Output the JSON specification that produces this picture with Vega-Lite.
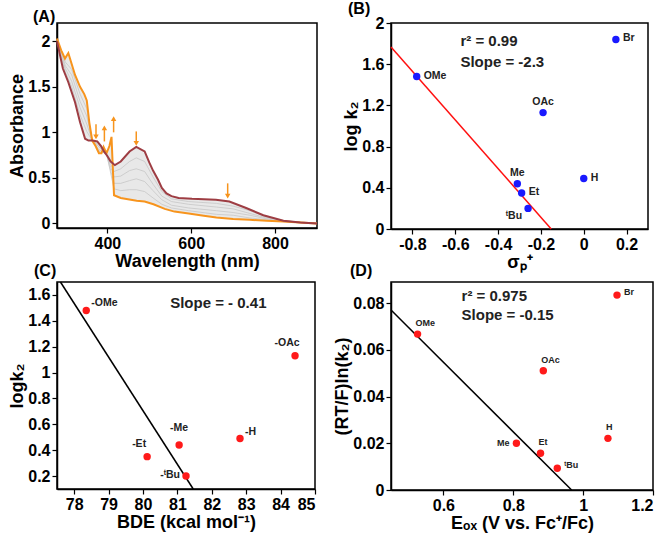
{
  "$schema": "https://vega.github.io/schema/vega-lite/v6.json",
  "padding": {"left": 8, "top": 0, "right": 0, "bottom": 0},
  "spacing": -10,
  "config": {
    "font": "Liberation Sans",
    "locale": {"number": {"decimal": ".", "thousands": ",", "grouping": [3], "currency": ["$", ""], "minus": "-"}},
    "view": {"stroke": "black", "strokeWidth": 1.5},
    "axis": {"grid": false, "domainColor": "black", "domainWidth": 1.5, "tickColor": "black", "tickSize": 5, "tickWidth": 1.2,
      "labelFont": "Liberation Sans", "labelFontSize": 16, "labelFontWeight": "bold", "labelColor": "black", "labelPadding": 2,
      "titleFont": "Liberation Sans", "titleFontSize": 18, "titleFontWeight": "bold", "titleColor": "black", "titlePadding": 1},
    "title": {"font": "Liberation Sans", "fontSize": 16, "fontWeight": "bold", "anchor": "start", "frame": "group", "color": "black"}
  },
  "datasets": {
    "spec": [
      {"s": "final", "wl": 280, "a": 2.03}, {"s": "final", "wl": 290, "a": 1.9}, {"s": "final", "wl": 299, "a": 1.81},
      {"s": "final", "wl": 307, "a": 1.87}, {"s": "final", "wl": 315, "a": 1.75}, {"s": "final", "wl": 323, "a": 1.63},
      {"s": "final", "wl": 335, "a": 1.5}, {"s": "final", "wl": 345, "a": 1.42}, {"s": "final", "wl": 351, "a": 1.35},
      {"s": "final", "wl": 357, "a": 1.11}, {"s": "final", "wl": 364, "a": 0.91}, {"s": "final", "wl": 372, "a": 0.85},
      {"s": "final", "wl": 380, "a": 0.77}, {"s": "final", "wl": 386, "a": 0.77}, {"s": "final", "wl": 391, "a": 0.84},
      {"s": "final", "wl": 398, "a": 0.77}, {"s": "final", "wl": 405, "a": 0.85}, {"s": "final", "wl": 410, "a": 0.95},
      {"s": "final", "wl": 413, "a": 0.62}, {"s": "final", "wl": 416, "a": 0.31}, {"s": "final", "wl": 432, "a": 0.28},
      {"s": "final", "wl": 470, "a": 0.25}, {"s": "final", "wl": 489, "a": 0.24}, {"s": "final", "wl": 510, "a": 0.21},
      {"s": "final", "wl": 537, "a": 0.16}, {"s": "final", "wl": 560, "a": 0.13}, {"s": "final", "wl": 594, "a": 0.11},
      {"s": "final", "wl": 630, "a": 0.085}, {"s": "final", "wl": 660, "a": 0.066}, {"s": "final", "wl": 700, "a": 0.05},
      {"s": "final", "wl": 740, "a": 0.04}, {"s": "final", "wl": 780, "a": 0.03}, {"s": "final", "wl": 820, "a": 0.02},
      {"s": "final", "wl": 860, "a": 0.01}, {"s": "final", "wl": 900, "a": 0.0},
      {"s": "initial", "wl": 280, "a": 2.0}, {"s": "initial", "wl": 287, "a": 1.85}, {"s": "initial", "wl": 294, "a": 1.7},
      {"s": "initial", "wl": 307, "a": 1.55}, {"s": "initial", "wl": 323, "a": 1.33}, {"s": "initial", "wl": 335, "a": 1.11},
      {"s": "initial", "wl": 347, "a": 0.93}, {"s": "initial", "wl": 355, "a": 0.91}, {"s": "initial", "wl": 365, "a": 0.91},
      {"s": "initial", "wl": 376, "a": 0.9}, {"s": "initial", "wl": 385, "a": 0.85}, {"s": "initial", "wl": 392, "a": 0.79},
      {"s": "initial", "wl": 400, "a": 0.74}, {"s": "initial", "wl": 408, "a": 0.68}, {"s": "initial", "wl": 418, "a": 0.64},
      {"s": "initial", "wl": 432, "a": 0.68}, {"s": "initial", "wl": 453, "a": 0.79}, {"s": "initial", "wl": 469, "a": 0.84},
      {"s": "initial", "wl": 489, "a": 0.79}, {"s": "initial", "wl": 500, "a": 0.67}, {"s": "initial", "wl": 509, "a": 0.58},
      {"s": "initial", "wl": 521, "a": 0.48}, {"s": "initial", "wl": 530, "a": 0.39}, {"s": "initial", "wl": 541, "a": 0.33},
      {"s": "initial", "wl": 553, "a": 0.3}, {"s": "initial", "wl": 570, "a": 0.28}, {"s": "initial", "wl": 602, "a": 0.27},
      {"s": "initial", "wl": 659, "a": 0.26}, {"s": "initial", "wl": 691, "a": 0.24}, {"s": "initial", "wl": 731, "a": 0.17},
      {"s": "initial", "wl": 772, "a": 0.09}, {"s": "initial", "wl": 820, "a": 0.03}, {"s": "initial", "wl": 860, "a": 0.01},
      {"s": "initial", "wl": 900, "a": 0.0}
    ],
    "band": [
      {"wl": 280, "lo": 2.03, "hi": 2.0}, {"wl": 290, "lo": 1.9, "hi": 1.79}, {"wl": 300, "lo": 1.81, "hi": 1.62},
      {"wl": 307, "lo": 1.87, "hi": 1.55}, {"wl": 315, "lo": 1.75, "hi": 1.44}, {"wl": 323, "lo": 1.63, "hi": 1.33},
      {"wl": 335, "lo": 1.5, "hi": 1.11}, {"wl": 345, "lo": 1.42, "hi": 0.96}, {"wl": 351, "lo": 1.35, "hi": 0.92},
      {"wl": 357, "lo": 1.11, "hi": 0.91}, {"wl": 364, "lo": 0.91, "hi": 0.91}, {"wl": 372, "lo": 0.85, "hi": 0.9},
      {"wl": 380, "lo": 0.77, "hi": 0.88}, {"wl": 391, "lo": 0.84, "hi": 0.8}, {"wl": 398, "lo": 0.77, "hi": 0.75},
      {"wl": 405, "lo": 0.85, "hi": 0.7}, {"wl": 410, "lo": 0.95, "hi": 0.67}, {"wl": 413, "lo": 0.62, "hi": 0.66},
      {"wl": 416, "lo": 0.31, "hi": 0.64}, {"wl": 432, "lo": 0.28, "hi": 0.68}, {"wl": 453, "lo": 0.26, "hi": 0.79},
      {"wl": 469, "lo": 0.25, "hi": 0.84}, {"wl": 489, "lo": 0.24, "hi": 0.79}, {"wl": 509, "lo": 0.21, "hi": 0.58},
      {"wl": 530, "lo": 0.17, "hi": 0.39}, {"wl": 553, "lo": 0.14, "hi": 0.3}, {"wl": 594, "lo": 0.11, "hi": 0.27},
      {"wl": 660, "lo": 0.066, "hi": 0.26}, {"wl": 700, "lo": 0.05, "hi": 0.23}, {"wl": 740, "lo": 0.04, "hi": 0.16},
      {"wl": 780, "lo": 0.03, "hi": 0.08}, {"wl": 820, "lo": 0.02, "hi": 0.03}, {"wl": 860, "lo": 0.01, "hi": 0.01},
      {"wl": 900, "lo": 0.0, "hi": 0.0}
    ],
    "gray": [
      {"k": 1, "wl": 280, "a": 2.02}, {"k": 1, "wl": 300, "a": 1.77}, {"k": 1, "wl": 315, "a": 1.69}, {"k": 1, "wl": 335, "a": 1.42},
      {"k": 1, "wl": 351, "a": 1.26}, {"k": 1, "wl": 364, "a": 0.91}, {"k": 1, "wl": 380, "a": 0.79}, {"k": 1, "wl": 398, "a": 0.77},
      {"k": 1, "wl": 416, "a": 0.38}, {"k": 1, "wl": 432, "a": 0.36}, {"k": 1, "wl": 453, "a": 0.37}, {"k": 1, "wl": 469, "a": 0.37},
      {"k": 1, "wl": 489, "a": 0.35}, {"k": 1, "wl": 509, "a": 0.28}, {"k": 1, "wl": 530, "a": 0.21}, {"k": 1, "wl": 553, "a": 0.17},
      {"k": 1, "wl": 594, "a": 0.14}, {"k": 1, "wl": 660, "a": 0.1}, {"k": 1, "wl": 700, "a": 0.09}, {"k": 1, "wl": 740, "a": 0.06},
      {"k": 1, "wl": 780, "a": 0.04}, {"k": 1, "wl": 820, "a": 0.02}, {"k": 1, "wl": 900, "a": 0.0},
      {"k": 2, "wl": 280, "a": 2.02}, {"k": 2, "wl": 300, "a": 1.73}, {"k": 2, "wl": 315, "a": 1.63}, {"k": 2, "wl": 335, "a": 1.34},
      {"k": 2, "wl": 351, "a": 1.18}, {"k": 2, "wl": 364, "a": 0.91}, {"k": 2, "wl": 380, "a": 0.81}, {"k": 2, "wl": 398, "a": 0.76},
      {"k": 2, "wl": 416, "a": 0.44}, {"k": 2, "wl": 432, "a": 0.44}, {"k": 2, "wl": 453, "a": 0.47}, {"k": 2, "wl": 469, "a": 0.49},
      {"k": 2, "wl": 489, "a": 0.46}, {"k": 2, "wl": 509, "a": 0.36}, {"k": 2, "wl": 530, "a": 0.26}, {"k": 2, "wl": 553, "a": 0.2},
      {"k": 2, "wl": 594, "a": 0.17}, {"k": 2, "wl": 660, "a": 0.14}, {"k": 2, "wl": 700, "a": 0.12}, {"k": 2, "wl": 740, "a": 0.09},
      {"k": 2, "wl": 780, "a": 0.05}, {"k": 2, "wl": 820, "a": 0.02}, {"k": 2, "wl": 900, "a": 0.0},
      {"k": 3, "wl": 280, "a": 2.01}, {"k": 3, "wl": 300, "a": 1.7}, {"k": 3, "wl": 315, "a": 1.56}, {"k": 3, "wl": 335, "a": 1.27},
      {"k": 3, "wl": 351, "a": 1.09}, {"k": 3, "wl": 364, "a": 0.91}, {"k": 3, "wl": 380, "a": 0.84}, {"k": 3, "wl": 398, "a": 0.76},
      {"k": 3, "wl": 416, "a": 0.51}, {"k": 3, "wl": 432, "a": 0.52}, {"k": 3, "wl": 453, "a": 0.58}, {"k": 3, "wl": 469, "a": 0.6},
      {"k": 3, "wl": 489, "a": 0.57}, {"k": 3, "wl": 509, "a": 0.43}, {"k": 3, "wl": 530, "a": 0.3}, {"k": 3, "wl": 553, "a": 0.24},
      {"k": 3, "wl": 594, "a": 0.21}, {"k": 3, "wl": 660, "a": 0.18}, {"k": 3, "wl": 700, "a": 0.16}, {"k": 3, "wl": 740, "a": 0.11},
      {"k": 3, "wl": 780, "a": 0.06}, {"k": 3, "wl": 820, "a": 0.03}, {"k": 3, "wl": 900, "a": 0.0},
      {"k": 4, "wl": 280, "a": 2.01}, {"k": 4, "wl": 300, "a": 1.66}, {"k": 4, "wl": 315, "a": 1.5}, {"k": 4, "wl": 335, "a": 1.19},
      {"k": 4, "wl": 351, "a": 1.01}, {"k": 4, "wl": 364, "a": 0.91}, {"k": 4, "wl": 380, "a": 0.86}, {"k": 4, "wl": 398, "a": 0.75},
      {"k": 4, "wl": 416, "a": 0.57}, {"k": 4, "wl": 432, "a": 0.6}, {"k": 4, "wl": 453, "a": 0.68}, {"k": 4, "wl": 469, "a": 0.72},
      {"k": 4, "wl": 489, "a": 0.68}, {"k": 4, "wl": 509, "a": 0.51}, {"k": 4, "wl": 530, "a": 0.35}, {"k": 4, "wl": 553, "a": 0.27},
      {"k": 4, "wl": 594, "a": 0.24}, {"k": 4, "wl": 660, "a": 0.22}, {"k": 4, "wl": 700, "a": 0.19}, {"k": 4, "wl": 740, "a": 0.14},
      {"k": 4, "wl": 780, "a": 0.07}, {"k": 4, "wl": 820, "a": 0.03}, {"k": 4, "wl": 900, "a": 0.0}
    ],
    "arrows": [
      {"wl": 373, "from": 1.09, "to": 0.95, "dir": "down"},
      {"wl": 393, "from": 0.9, "to": 1.05, "dir": "up"},
      {"wl": 415, "from": 1.0, "to": 1.15, "dir": "up"},
      {"wl": 469, "from": 1.01, "to": 0.88, "dir": "down"},
      {"wl": 687, "from": 0.44, "to": 0.3, "dir": "down"}
    ],
    "hb": [
      {"s": "OMe", "x": -0.78, "y": 1.48}, {"s": "Br", "x": 0.15, "y": 1.84}, {"s": "OAc", "x": -0.19, "y": 1.13},
      {"s": "Me", "x": -0.31, "y": 0.44}, {"s": "Et", "x": -0.29, "y": 0.35}, {"s": "ᵗBu", "x": -0.26, "y": 0.2},
      {"s": "H", "x": 0.0, "y": 0.49}
    ],
    "fitb": [{"x": -0.9, "y": 1.767}, {"x": -0.152, "y": 0}],
    "annb": [{"x": -0.576, "y": 1.825, "t": "r² = 0.99"}, {"x": -0.576, "y": 1.62, "t": "Slope = -2.3"}],
    "hc": [
      {"s": "-OMe", "x": 78.35, "y": 1.48}, {"s": "-OAc", "x": 84.42, "y": 1.13}, {"s": "-Me", "x": 81.05, "y": 0.44},
      {"s": "-H", "x": 82.82, "y": 0.49}, {"s": "-Et", "x": 80.12, "y": 0.35}, {"s": "-ᵗBu", "x": 81.25, "y": 0.2}
    ],
    "fitc": [{"x": 77.6, "y": 1.7}, {"x": 81.46, "y": 0.1}],
    "annc": [{"x": 80.79, "y": 1.536, "t": "Slope = - 0.41"}],
    "hd": [
      {"s": "OMe", "x": 0.526, "y": 0.0667}, {"s": "Br", "x": 1.097, "y": 0.0834}, {"s": "OAc", "x": 0.886, "y": 0.051},
      {"s": "H", "x": 1.071, "y": 0.0221}, {"s": "Me", "x": 0.809, "y": 0.02}, {"s": "Et", "x": 0.878, "y": 0.0157},
      {"s": "ᵗBu", "x": 0.926, "y": 0.0093}
    ],
    "fitd": [{"x": 0.45, "y": 0.077}, {"x": 0.967, "y": 0}],
    "annd": [{"x": 0.652, "y": 0.0831, "t": "r² = 0.975"}, {"x": 0.652, "y": 0.075, "t": "Slope = -0.15"}]
  },
  "vconcat": [
    {
      "hconcat": [
        {
          "width": 260, "height": 205,
          "title": {"text": "(A)", "dx": -24, "offset": -2},
          "encoding": {
            "x": {"field": "wl", "type": "quantitative", "scale": {"domain": [280, 900], "nice": false, "zero": false},
              "axis": {"values": [400, 600, 800], "title": "Wavelength (nm)"}},
            "y": {"field": "a", "type": "quantitative", "scale": {"domain": [-0.05, 2.2], "nice": false, "zero": false},
              "axis": {"values": [0, 0.5, 1, 1.5, 2], "format": "~g", "title": "Absorbance"}}
          },
          "layer": [
            {"data": {"name": "band"}, "mark": {"type": "area", "color": "#e8e8e8"},
              "encoding": {"y": {"field": "lo", "type": "quantitative"}, "y2": {"field": "hi"}}},
            {"data": {"name": "gray"}, "mark": {"type": "line", "color": "#c6c6c6", "strokeWidth": 0.8},
              "encoding": {"detail": {"field": "k", "type": "nominal"}}},
            {"data": {"name": "spec"}, "mark": {"type": "line", "strokeWidth": 2},
              "encoding": {"color": {"field": "s", "type": "nominal", "scale": {"domain": ["initial", "final"], "range": ["#9e3d43", "#f7941d"]}, "legend": null}}},
            {"data": {"name": "arrows"}, "mark": {"type": "rule", "color": "#f7941d", "strokeWidth": 1.5},
              "encoding": {"y": {"field": "from", "type": "quantitative"}, "y2": {"field": "to"}}},
            {"data": {"name": "arrows"}, "mark": {"type": "point", "filled": true, "color": "#f7941d", "size": 30, "opacity": 1},
              "encoding": {"y": {"field": "to", "type": "quantitative"},
                "shape": {"field": "dir", "type": "nominal", "scale": {"domain": ["down", "up"], "range": ["triangle-down", "triangle-up"]}, "legend": null}}}
          ]
        },
        {
          "width": 257, "height": 206,
          "title": {"text": "(B)", "dx": -43, "offset": -2},
          "encoding": {
            "x": {"field": "x", "type": "quantitative", "scale": {"domain": [-0.9, 0.3], "nice": false, "zero": false},
              "axis": {"values": [-0.8, -0.6, -0.4, -0.2, 0, 0.2], "format": "~g", "title": "σₚ⁺"}},
            "y": {"field": "y", "type": "quantitative", "scale": {"domain": [0, 2], "nice": false},
              "axis": {"values": [0, 0.4, 0.8, 1.2, 1.6, 2], "format": "~g", "title": "log k₂"}}
          },
          "layer": [
            {"data": {"name": "fitb"}, "mark": {"type": "line", "color": "#ff1010", "strokeWidth": 1.5}, "encoding": {}},
            {"data": {"name": "hb"}, "mark": {"type": "circle", "color": "#1a1aff", "size": 55, "opacity": 1}},
            {"data": {"name": "hb"}, "transform": [{"filter": {"field": "s", "oneOf": ["OMe", "Br", "Et", "H"]}}],
              "mark": {"type": "text", "align": "left", "baseline": "middle", "dx": 7, "dy": -1, "fontSize": 10.5, "fontWeight": "bold", "color": "#222"},
              "encoding": {"text": {"field": "s"}}},
            {"data": {"name": "hb"}, "transform": [{"filter": {"field": "s", "oneOf": ["OAc", "Me"]}}],
              "mark": {"type": "text", "align": "center", "baseline": "middle", "dy": -11, "fontSize": 10.5, "fontWeight": "bold", "color": "#222"},
              "encoding": {"text": {"field": "s"}}},
            {"data": {"name": "hb"}, "transform": [{"filter": {"field": "s", "oneOf": ["ᵗBu"]}}],
              "mark": {"type": "text", "align": "right", "baseline": "middle", "dx": -6, "dy": 8, "fontSize": 10.5, "fontWeight": "bold", "color": "#222"},
              "encoding": {"text": {"field": "s"}}},
            {"data": {"name": "annb"}, "mark": {"type": "text", "align": "left", "baseline": "middle", "fontSize": 15, "fontWeight": "bold", "color": "#222"},
              "encoding": {"text": {"field": "t"}}}
          ]
        }
      ],
      "spacing": 74,
      "bounds": "flush"
    },
    {
      "hconcat": [
        {
          "width": 258, "height": 207,
          "title": {"text": "(C)", "dx": -23, "offset": 0},
          "encoding": {
            "x": {"field": "x", "type": "quantitative", "scale": {"domain": [77.5, 85], "nice": false, "zero": false},
              "axis": {"values": [78, 79, 80, 81, 82, 83, 84, 85], "format": "~g", "title": "BDE (kcal mol⁻¹)"}},
            "y": {"field": "y", "type": "quantitative", "scale": {"domain": [0.1, 1.7], "nice": false, "zero": false},
              "axis": {"values": [0.2, 0.4, 0.6, 0.8, 1, 1.2, 1.4, 1.6], "format": "~g", "title": "logk₂"}}
          },
          "layer": [
            {"data": {"name": "fitc"}, "mark": {"type": "line", "color": "black", "strokeWidth": 1.5}, "encoding": {}},
            {"data": {"name": "hc"}, "mark": {"type": "circle", "color": "#ff1a1a", "size": 55, "opacity": 1}},
            {"data": {"name": "hc"}, "transform": [{"filter": {"field": "s", "oneOf": ["-OMe", "-H"]}}],
              "mark": {"type": "text", "align": "left", "baseline": "middle", "dx": 5, "dy": -7, "fontSize": 10.5, "fontWeight": "bold", "color": "#222"},
              "encoding": {"text": {"field": "s"}}},
            {"data": {"name": "hc"}, "transform": [{"filter": {"field": "s", "oneOf": ["-OAc", "-Et"]}}],
              "mark": {"type": "text", "align": "center", "baseline": "middle", "dx": -8, "dy": -13, "fontSize": 10.5, "fontWeight": "bold", "color": "#222"},
              "encoding": {"text": {"field": "s"}}},
            {"data": {"name": "hc"}, "transform": [{"filter": {"field": "s", "oneOf": ["-Me"]}}],
              "mark": {"type": "text", "align": "center", "baseline": "middle", "dy": -17, "fontSize": 10.5, "fontWeight": "bold", "color": "#222"},
              "encoding": {"text": {"field": "s"}}},
            {"data": {"name": "hc"}, "transform": [{"filter": {"field": "s", "oneOf": ["-ᵗBu"]}}],
              "mark": {"type": "text", "align": "right", "baseline": "middle", "dx": -6, "dy": -1, "fontSize": 10.5, "fontWeight": "bold", "color": "#222"},
              "encoding": {"text": {"field": "s"}}},
            {"data": {"name": "annc"}, "mark": {"type": "text", "align": "left", "baseline": "middle", "fontSize": 15, "fontWeight": "bold", "color": "#222"},
              "encoding": {"text": {"field": "t"}}}
          ]
        },
        {
          "width": 262, "height": 208,
          "title": {"text": "(D)", "dx": -41, "offset": 3},
          "encoding": {
            "x": {"field": "x", "type": "quantitative", "scale": {"domain": [0.45, 1.2], "nice": false, "zero": false},
              "axis": {"values": [0.6, 0.8, 1, 1.2], "format": "~g", "title": "Eₒₓ (V vs. Fc⁺/Fc)"}},
            "y": {"field": "y", "type": "quantitative", "scale": {"domain": [0, 0.089], "nice": false, "zero": false},
              "axis": {"values": [0, 0.02, 0.04, 0.06, 0.08], "format": "~g", "title": "(RT/F)ln(k₂)"}}
          },
          "layer": [
            {"data": {"name": "fitd"}, "mark": {"type": "line", "color": "black", "strokeWidth": 1.5}, "encoding": {}},
            {"data": {"name": "hd"}, "mark": {"type": "circle", "color": "#ff1a1a", "size": 55, "opacity": 1}},
            {"data": {"name": "hd"}, "transform": [{"filter": {"field": "s", "oneOf": ["OMe", "OAc", "H", "Et"]}}],
              "mark": {"type": "text", "align": "left", "baseline": "middle", "dx": -2, "dy": -11, "fontSize": 9, "fontWeight": "bold", "color": "#222"},
              "encoding": {"text": {"field": "s"}}},
            {"data": {"name": "hd"}, "transform": [{"filter": {"field": "s", "oneOf": ["Br", "ᵗBu"]}}],
              "mark": {"type": "text", "align": "left", "baseline": "middle", "dx": 7, "dy": -3, "fontSize": 9, "fontWeight": "bold", "color": "#222"},
              "encoding": {"text": {"field": "s"}}},
            {"data": {"name": "hd"}, "transform": [{"filter": {"field": "s", "oneOf": ["Me"]}}],
              "mark": {"type": "text", "align": "right", "baseline": "middle", "dx": -7, "dy": 0, "fontSize": 9, "fontWeight": "bold", "color": "#222"},
              "encoding": {"text": {"field": "s"}}},
            {"data": {"name": "annd"}, "mark": {"type": "text", "align": "left", "baseline": "middle", "fontSize": 15, "fontWeight": "bold", "color": "#222"},
              "encoding": {"text": {"field": "t"}}}
          ]
        }
      ],
      "spacing": 76,
      "bounds": "flush"
    }
  ]
}
